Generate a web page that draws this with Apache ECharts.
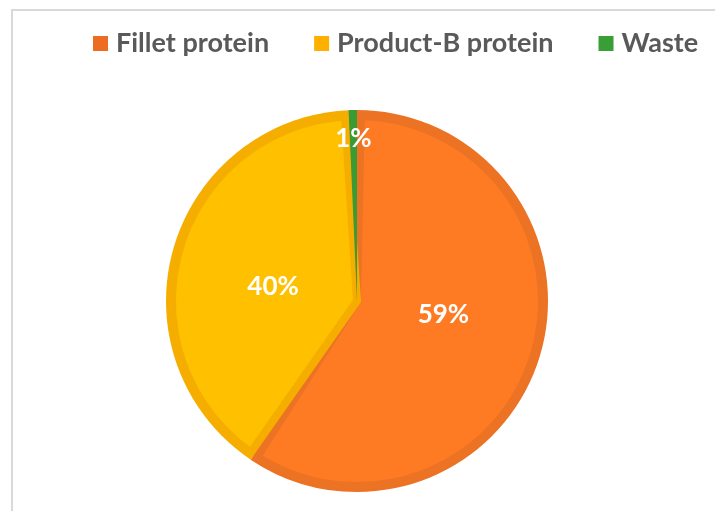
<!DOCTYPE html>
<html>
<head>
<meta charset="utf-8">
<script src="https://cdn.jsdelivr.net/npm/echarts@6/dist/echarts.min.js"></script>
<style>
  html, body { margin: 0; padding: 0; background: #fff; }
  #chart { width: 715px; height: 511px; }
</style>
</head>
<body>
<div id="chart"></div>
<script>
// share of protein, percent
const names = ['Fillet protein', 'Product-B protein', 'Waste'];
const values = [59.4, 39.9, 0.7];

const lightColors = ['#FE7B24', '#FFC000', '#3A9A34'];
const darkColors = ['#EC7224', '#F5AE00', '#3A9A34'];
const legendColors = ['#EE6C22', '#FDB000', '#3A9E36'];

const center = [357, 301];
const R = 191;
const FONT = 'Lato, "Open Sans", sans-serif';

function items(fn) {
  return names.map((name, i) => Object.assign({ name: name, value: values[i] }, fn(i)));
}

const chart = echarts.init(document.getElementById('chart'), null, { renderer: 'canvas' });

const base = {
  type: 'pie',
  center: center,
  startAngle: 90,
  clockwise: true,
  silent: true,
  animation: false,
  percentPrecision: 0,
  labelLine: { show: false },
  emphasis: { disabled: true }
};

const pctLabel = {
  show: true,
  position: 'inside',
  formatter: '{d}%',
  color: '#fff',
  fontFamily: FONT,
  fontSize: 26,
  fontWeight: 'bold'
};

chart.setOption({
  animation: false,
  legend: {
    top: 25,
    left: 88,
    itemWidth: 15,
    itemHeight: 15,
    itemGap: 45,
    icon: 'rect',
    selectedMode: false,
    itemStyle: { borderWidth: 0 },
    textStyle: { fontFamily: FONT, fontSize: 27, fontWeight: 'bold', color: '#595959', padding: [0, 0, 0, 3] },
    data: names.map((n, i) => ({ name: n, itemStyle: { color: legendColors[i] } }))
  },
  graphic: [{
    type: 'rect',
    shape: { x: 12, y: 10, width: 760, height: 560 },
    style: { fill: 'none', stroke: '#D9D9D9', lineWidth: 2 },
    silent: true
  }],
  series: [
    // dark slices, full size (these show as the bands)
    Object.assign({}, base, {
      radius: [0, R],
      label: { show: false },
      data: items(i => ({ itemStyle: { color: darkColors[i] } }))
    }),
    // lighter inner slices
    Object.assign({}, base, {
      radius: [0, R - 6],
      padAngle: 2.4,
      label: pctLabel,
      data: items(i => {
        if (i === 2) {
          return { itemStyle: { color: 'rgba(0,0,0,0)', borderWidth: 0 }, label: { show: false } };
        }
        return {
          itemStyle: { color: lightColors[i], borderColor: darkColors[i], borderWidth: 8 },
          label: { offset: i === 0 ? [-5, -14] : [8, 11] }
        };
      })
    }),
    // waste wedge on top
    Object.assign({}, base, {
      radius: [0, R],
      label: { show: false },
      data: items(i => ({ itemStyle: { color: i === 2 ? lightColors[2] : 'rgba(0,0,0,0)' } }))
    }),
    // waste label near the rim
    Object.assign({}, base, {
      radius: [128, R],
      label: pctLabel,
      data: items(i => ({
        itemStyle: { color: 'rgba(0,0,0,0)' },
        label: { show: i === 2 }
      }))
    })
  ]
});
</script>
</body>
</html>
